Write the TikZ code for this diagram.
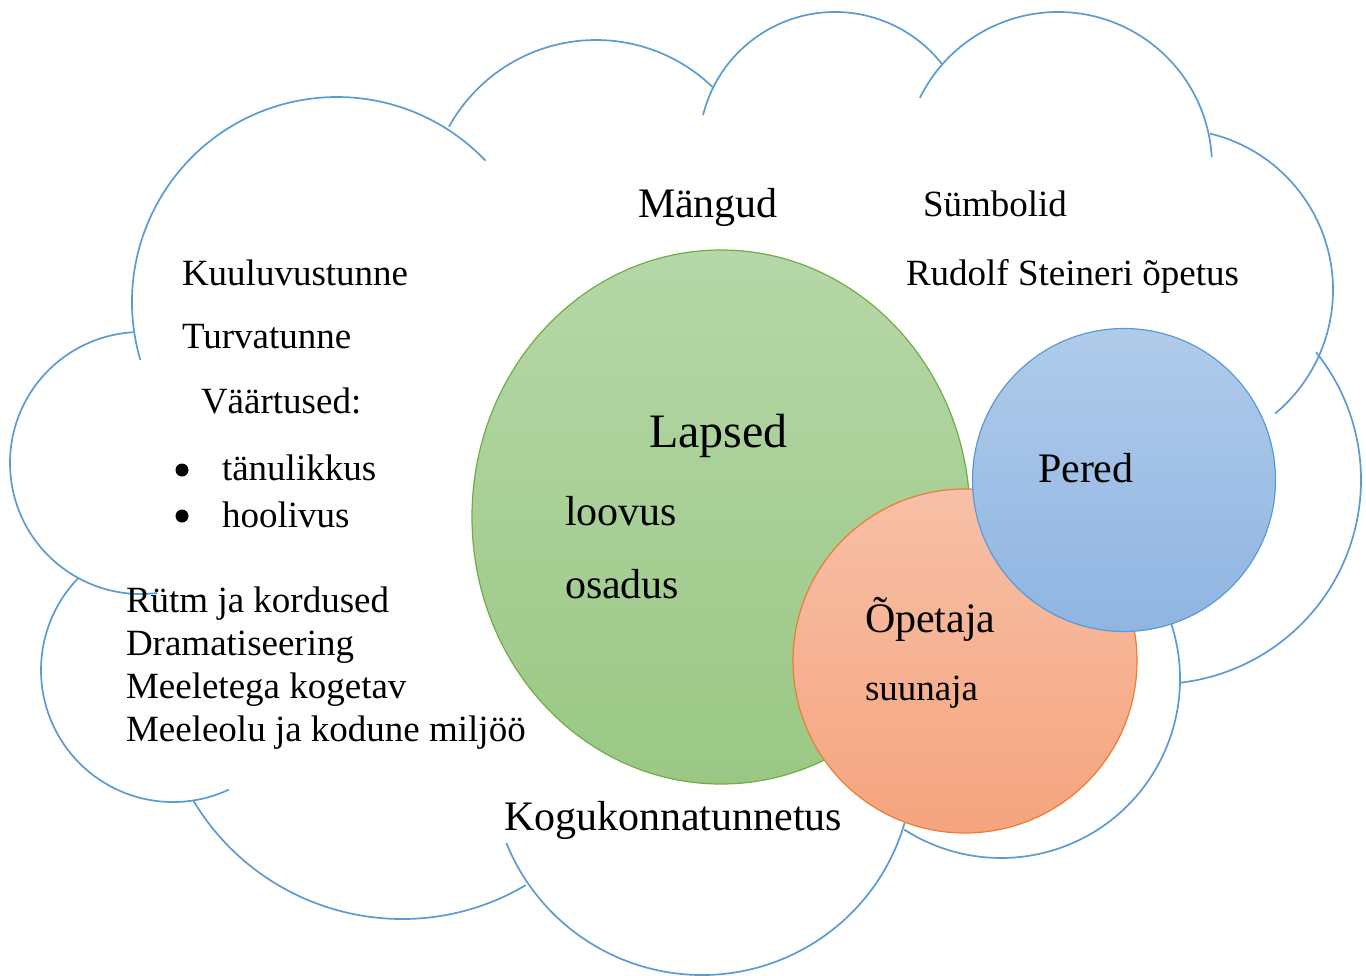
\documentclass[tikz,border=0pt]{standalone}
\usepackage{fontspec}
\setmainfont{Liberation Serif}
\usetikzlibrary{shapes.geometric}
\definecolor{cloudline}{HTML}{5B9BD5}
\definecolor{greenline}{HTML}{70AD47}
\definecolor{greentop}{HTML}{B6D7A8}
\definecolor{greenbot}{HTML}{9AC884}
\definecolor{orangeline}{HTML}{ED7D31}
\definecolor{orangetop}{HTML}{F7C0A7}
\definecolor{orangebot}{HTML}{F5A47E}
\definecolor{blueline}{HTML}{5B9BD5}
\definecolor{bluetop}{HTML}{B0CBEA}
\definecolor{bluebot}{HTML}{8FB5E2}
\tikzset{
  cloudarc/.style={draw=cloudline, line width=1.7pt},
  txt/.style={inner sep=0pt, outer sep=0pt, anchor=base west, font=\fontsize{37}{44}\selectfont},
  txtbig/.style={txt, font=\fontsize{42}{50}\selectfont},
  txthuge/.style={txt, font=\fontsize{48}{56}\selectfont},
  bulletmark/.style={circle, fill=black, inner sep=0pt, outer sep=0pt, minimum size=13pt},
  blob/.style={ellipse, inner sep=0pt, outer sep=0pt, line width=1.2pt}
}
\newcommand{\cloudpiece}[5]{\path[cloudarc] (#1,#2) ++(#4:#3) arc[start angle=#4, end angle=#5, radius=#3];}
\begin{document}
\begin{tikzpicture}[x=1pt, y=-1pt]
\useasboundingbox (0,0) rectangle (1366,975);
% cloud outline
\cloudpiece{337}{302}{205}{163.6}{316.4}
\cloudpiece{596}{208}{168}{208.9}{313.8}
\cloudpiece{835}{148}{136}{194}{322.1}
\cloudpiece{1058}{166}{154}{206.2}{356.7}
\cloudpiece{1172}{290}{161}{283.6}{410.1}
\cloudpiece{1157}{480}{204}{-38.8}{83.8}
\cloudpiece{1001}{679}{179}{-18.2}{122.7}
\cloudpiece{702}{764}{211}{16.2}{158}
\cloudpiece{402}{676}{243}{59.4}{149.3}
\cloudpiece{173}{670}{132}{65}{224.1}
\cloudpiece{141}{463}{131}{83}{266.5}
% circles
\node[blob, draw=greenline, top color=greentop, bottom color=greenbot, minimum width=498pt, minimum height=534pt] (lapsedc) at (721,517) {};
\node[blob, draw=orangeline, top color=orangetop, bottom color=orangebot, minimum width=344pt, minimum height=344pt] (opetajac) at (965,661) {};
\node[blob, draw=blueline, top color=bluetop, bottom color=bluebot, minimum width=303pt, minimum height=303pt] (peredc) at (1124,480) {};
% texts
\node[txtbig] (mangud) at (638,217) {Mängud};
\node[txt] (sumbolid) at (923,216) {Sümbolid};
\node[txt] (steiner) at (906,285) {Rudolf Steineri õpetus};
\node[txt] (kuuluvus) at (182,285) {Kuuluvustunne};
\node[txt] (turva) at (182,348) {Turvatunne};
\node[txt] (vaartused) at (201,413) {Väärtused:};
\node[bulletmark] (b1) at (182,470) {};
\node[txt] (tanulikkus) at (222,480) {tänulikkus};
\node[bulletmark] (b2) at (182,516) {};
\node[txt] (hoolivus) at (222,527) {hoolivus};
\node[txt] (rytm) at (126,612) {Rütm ja kordused};
\node[txt] (drama) at (126,655) {Dramatiseering};
\node[txt] (meeletega) at (126,698) {Meeletega kogetav};
\node[txt] (meeleolu) at (126,741) {Meeleolu ja kodune miljöö};
\node[txthuge] (lapsed) at (649,447) {Lapsed};
\node[txtbig] (loovus) at (565,525) {loovus};
\node[txtbig] (osadus) at (565,598) {osadus};
\node[txtbig] (pered) at (1038,482) {Pered};
\node[txtbig] (opetaja) at (865,632) {Õpetaja};
\node[txt] (suunaja) at (865,700) {suunaja};
\node[txtbig] (kogukond) at (504,830) {Kogukonnatunnetus};
\end{tikzpicture}
\end{document}
